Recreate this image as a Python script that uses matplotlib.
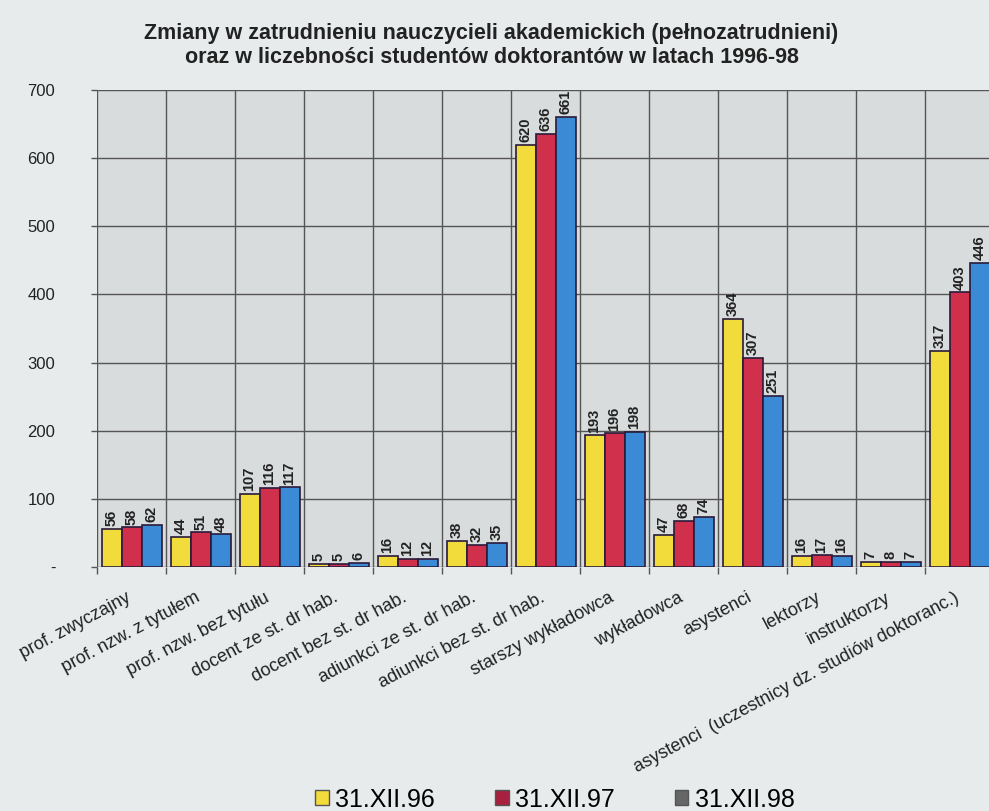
import matplotlib
matplotlib.use("Agg")
import matplotlib.pyplot as plt
import numpy as np
from matplotlib.patches import Patch
from matplotlib.ticker import FixedLocator

categories = ["prof. zwyczajny", "prof. nzw. z tytułem", "prof. nzw. bez tytułu",
              "docent ze st. dr hab.", "docent bez st. dr hab.", "adiunkci ze st. dr hab.",
              "adiunkci bez st. dr hab.", "starszy wykładowca", "wykładowca", "asystenci",
              "lektorzy", "instruktorzy", "asystenci  (uczestnicy dz. studiów doktoranc.)"]
s96 = [56, 44, 107, 5, 16, 38, 620, 193, 47, 364, 16, 7, 317]
s97 = [58, 51, 116, 5, 12, 32, 636, 196, 68, 307, 17, 8, 403]
s98 = [62, 48, 117, 6, 12, 35, 661, 198, 74, 251, 16, 7, 446]
series_names = ["31.XII.96", "31.XII.97", "31.XII.98"]
yticks = [0, 100, 200, 300, 400, 500, 600, 700]
ytick_labels = ["-", "100", "200", "300", "400", "500", "600", "700"]

plt.rcParams['font.family'] = ['Liberation Sans', 'DejaVu Sans']

fig = plt.figure(figsize=(9.89, 8.11), dpi=100)
fig.patch.set_facecolor("#e7ebeb")
ax = fig.add_axes([0.0981, 0.3009, 0.907, 0.588])
ax.set_facecolor("#d9dcdc")

colors = ["#f2dc3c", "#d0304c", "#3a8ad6"]
x = np.arange(len(categories))
w = 0.29
for i, (vals, c) in enumerate(zip([s96, s97, s98], colors)):
    pos = x + (i - 1) * w
    ax.bar(pos, vals, width=w, color=c, edgecolor="#2a1a3a", linewidth=1.2, zorder=3)
    for p, v in zip(pos, vals):
        ax.text(p, v + 4, str(v), rotation=90, ha="center", va="bottom",
                fontsize=10.5, fontweight="bold", color="#222222", zorder=4)

ax.set_xlim(-0.5, len(categories) - 0.5)
ax.set_ylim(0, 700)
ax.set_yticks(yticks)
ax.set_yticklabels(ytick_labels, fontsize=12, color="#222222")
bounds = np.arange(-0.5, len(categories), 1.0)
for b in bounds:
    ax.axvline(b, color="#555555", linewidth=1.0, zorder=1)
for t in yticks:
    ax.axhline(t, color="#555555", linewidth=1.0, zorder=1)
ax.tick_params(axis="y", length=4, width=1.0, color="#555555", pad=26)
ax.set_xticks(x - 0.08)
ax.set_xticklabels(categories, rotation=28, ha="right", va="top", rotation_mode="anchor",
                   fontsize=13, color="#222222")
ax.tick_params(axis="x", which="major", length=0, pad=16)
ax.xaxis.set_minor_locator(FixedLocator(bounds))
ax.tick_params(axis="x", which="minor", length=5, width=1.0, color="#555555")
for s in ax.spines.values():
    s.set_visible(False)

fig.text(0.497, 0.959, "Zmiany w zatrudnieniu nauczycieli akademickich (pełnozatrudnieni)",
         ha="center", va="center", fontsize=15.5, fontweight="bold", color="#222222")
fig.text(0.497, 0.929, "oraz w liczebności studentów doktorantów w latach 1996-98",
         ha="center", va="center", fontsize=15.5, fontweight="bold", color="#222222")

handles = [Patch(facecolor="#f2dc3c", edgecolor="#555555"),
           Patch(facecolor="#a8203e", edgecolor="#555555"),
           Patch(facecolor="#666666", edgecolor="#555555")]
fig.legend(handles, series_names, loc="center", bbox_to_anchor=(0.561, 0.014),
           ncol=3, frameon=False, fontsize=18, handlelength=0.55, handleheight=0.55,
           handletextpad=0.25, columnspacing=2.4, borderpad=0.1)

fig.savefig("out.png", dpi=100, facecolor=fig.get_facecolor())
